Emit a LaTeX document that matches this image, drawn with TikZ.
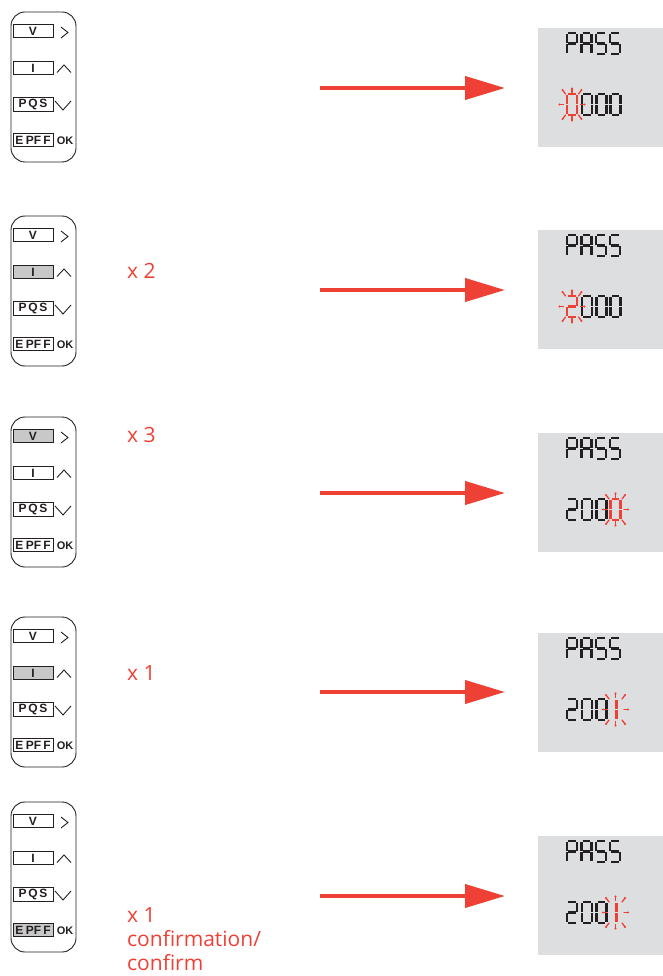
\documentclass[tikz,border=0pt]{standalone}
\usepackage{fontspec}
\setmainfont{Liberation Sans}
\newfontfamily\redfont{Open Sans}
\usetikzlibrary{arrows.meta}
\definecolor{myred}{RGB}{238,64,53}
\definecolor{lcdgray}{RGB}{221,222,224}
\definecolor{keygray}{RGB}{200,200,200}
\definecolor{inkblack}{RGB}{35,31,32}
\tikzset{
  keypad/.style={draw=inkblack, line width=0.9pt, rounded corners=14pt, minimum width=65pt, minimum height=150pt, inner sep=0pt},
  keybtn/.style={draw=inkblack, line width=0.8pt, minimum width=40pt, minimum height=13.5pt, inner sep=0pt, font=\fontsize{12}{12}\selectfont\bfseries, text=inkblack},
  oklbl/.style={font=\fontsize{11}{11}\selectfont\bfseries, text=inkblack, inner sep=0pt},
  sym/.style={draw=inkblack, line width=0.9pt},
  lcd/.style={fill=lcdgray, minimum width=125pt, minimum height=119pt, inner sep=0pt},
  seg/.style={line width=2.2pt, line cap=butt},
  ray/.style={myred, line width=1.3pt, line cap=round},
  redlbl/.style={anchor=west, text=myred, inner sep=0pt, font=\redfont\fontsize{21}{24}\selectfont, align=left},
  flow/.style={draw=myred, line width=4pt, -{Triangle[length=40pt,width=23pt]}}
}
% seven segment pieces: #1 x, #2 y (top-left), #3 colour
\newcommand\sgA[3]{\draw[seg,#3] (#1+1.2,#2) -- (#1+8.8,#2);}
\newcommand\sgB[3]{\draw[seg,#3] (#1+10,#2+1.2) -- (#1+10,#2+9.6);}
\newcommand\sgC[3]{\draw[seg,#3] (#1+10,#2+11.4) -- (#1+10,#2+19.8);}
\newcommand\sgD[3]{\draw[seg,#3] (#1+1.2,#2+21) -- (#1+8.8,#2+21);}
\newcommand\sgE[3]{\draw[seg,#3] (#1,#2+11.4) -- (#1,#2+19.8);}
\newcommand\sgF[3]{\draw[seg,#3] (#1,#2+1.2) -- (#1,#2+9.6);}
\newcommand\sgG[3]{\draw[seg,#3] (#1+1.2,#2+10.5) -- (#1+8.8,#2+10.5);}
\newcommand\chP[3]{\sgA{#1}{#2}{#3}\sgB{#1}{#2}{#3}\sgE{#1}{#2}{#3}\sgF{#1}{#2}{#3}\sgG{#1}{#2}{#3}}
\newcommand\chA[3]{\sgA{#1}{#2}{#3}\sgB{#1}{#2}{#3}\sgC{#1}{#2}{#3}\sgE{#1}{#2}{#3}\sgF{#1}{#2}{#3}\sgG{#1}{#2}{#3}}
\newcommand\chS[3]{\sgA{#1}{#2}{#3}\sgF{#1}{#2}{#3}\sgG{#1}{#2}{#3}\sgC{#1}{#2}{#3}\sgD{#1}{#2}{#3}}
\newcommand\chZero[3]{\sgA{#1}{#2}{#3}\sgB{#1}{#2}{#3}\sgC{#1}{#2}{#3}\sgD{#1}{#2}{#3}\sgE{#1}{#2}{#3}\sgF{#1}{#2}{#3}}
\newcommand\chTwo[3]{\sgA{#1}{#2}{#3}\sgB{#1}{#2}{#3}\sgG{#1}{#2}{#3}\sgE{#1}{#2}{#3}\sgD{#1}{#2}{#3}}
\newcommand\chOne[3]{\sgB{#1}{#2}{#3}\sgC{#1}{#2}{#3}}
% blinking rays around centre #1,#2
\newcommand\rays[2]{%
  \foreach \dx/\dy/\ex/\ey in {0/-12/0/-16, 0/12/0/16, -8.5/0/-12.5/0, 8.5/0/12.5/0,
      -6.5/-10.5/-9.5/-14.5, 6.5/-10.5/9.5/-14.5, -6.5/10.5/-9.5/14.5, 6.5/10.5/9.5/14.5}{
    \draw[ray] (#1+\dx,#2+\dy) -- (#1+\ex,#2+\ey);
    \fill[myred] (#1+\ex,#2+\ey) circle (1.2);
  }}
% keypad: #1 name, #2 y offset, #3-#6 fills
\newcommand\keypad[6]{%
  \node[keypad] (kp#1) at (43.5,87+#2) {};
  \node[keybtn,fill=#3] (kv#1) at (33,31+#2) {V};
  \node[keybtn,fill=#4] (ki#1) at (33,68+#2) {I};
  \node[keybtn,fill=#5] (kq#1) at (33,104.5+#2) {P\hspace{1.8pt}Q\hspace{1.8pt}S};
  \node[keybtn,fill=#6] (ke#1) at (33,140+#2) {E\hspace{2.5pt}PF\hspace{2pt}F};
  \node[oklbl] (ok#1) at (65,140.5+#2) {OK};
  \draw[sym] (61,27+#2) -- (68,32.5+#2) -- (61,38+#2);
  \draw[sym] (57,72.5+#2) -- (64,65+#2) -- (71,72.5+#2);
  \draw[sym] (55,101+#2) -- (63,110+#2) -- (71,101+#2);
}
% lcd: #1 name, #2 y offset
\newcommand\lcd[2]{%
  \node[lcd] (lcd#1) at (600.5,87.5+#2) {};
  \chP{567}{33+#2}{inkblack}\chA{581.5}{33+#2}{inkblack}\chS{596}{33+#2}{inkblack}\chS{610}{33+#2}{inkblack}
}
\begin{document}
\begin{tikzpicture}[x=1pt,y=-1pt]
\useasboundingbox (0,0) rectangle (663,976);
% keypads
\keypad{1}{0}{white}{white}{white}{white}
\keypad{2}{204}{white}{keygray}{white}{white}
\keypad{3}{405}{keygray}{white}{white}{white}
\keypad{4}{605}{white}{keygray}{white}{white}
\keypad{5}{790}{white}{white}{white}{keygray}
% lcds
\lcd{1}{0}
\chZero{567}{94}{myred}\chZero{582}{94}{inkblack}\chZero{596.5}{94}{inkblack}\chZero{610.5}{94}{inkblack}
\rays{572}{104.5}
\lcd{2}{202}
\chTwo{567}{296}{myred}\chZero{582}{296}{inkblack}\chZero{596.5}{296}{inkblack}\chZero{610.5}{296}{inkblack}
\rays{572}{306.5}
\lcd{3}{405}
\chTwo{567}{499}{inkblack}\chZero{582}{499}{inkblack}\chZero{596.5}{499}{inkblack}\chZero{610.5}{499}{myred}
\rays{615.5}{509.5}
\lcd{4}{605}
\chTwo{567}{699}{inkblack}\chZero{582}{699}{inkblack}\chZero{596.5}{699}{inkblack}\chOne{606.5}{699}{myred}
\rays{615.5}{709.5}
\lcd{5}{808}
\chTwo{567}{902}{inkblack}\chZero{582}{902}{inkblack}\chZero{596.5}{902}{inkblack}\chOne{606.5}{902}{myred}
\rays{615.5}{912.5}
% arrows
\foreach \n/\yy in {1/88, 2/290, 3/493, 4/692, 5/896}{
  \coordinate (as\n) at (320,\yy);
  \coordinate (ae\n) at (505,\yy);
  \draw[flow] (as\n) -- (ae\n);
}
% labels
\node[redlbl] (lx2) at (127,271) {x 2};
\node[redlbl] (lx3) at (127,435) {x 3};
\node[redlbl] (lx4) at (127,673) {x 1};
\node[redlbl] (lx5) at (127,939.5) {x 1\\confirmation/\\confirm};
\end{tikzpicture}
\end{document}
